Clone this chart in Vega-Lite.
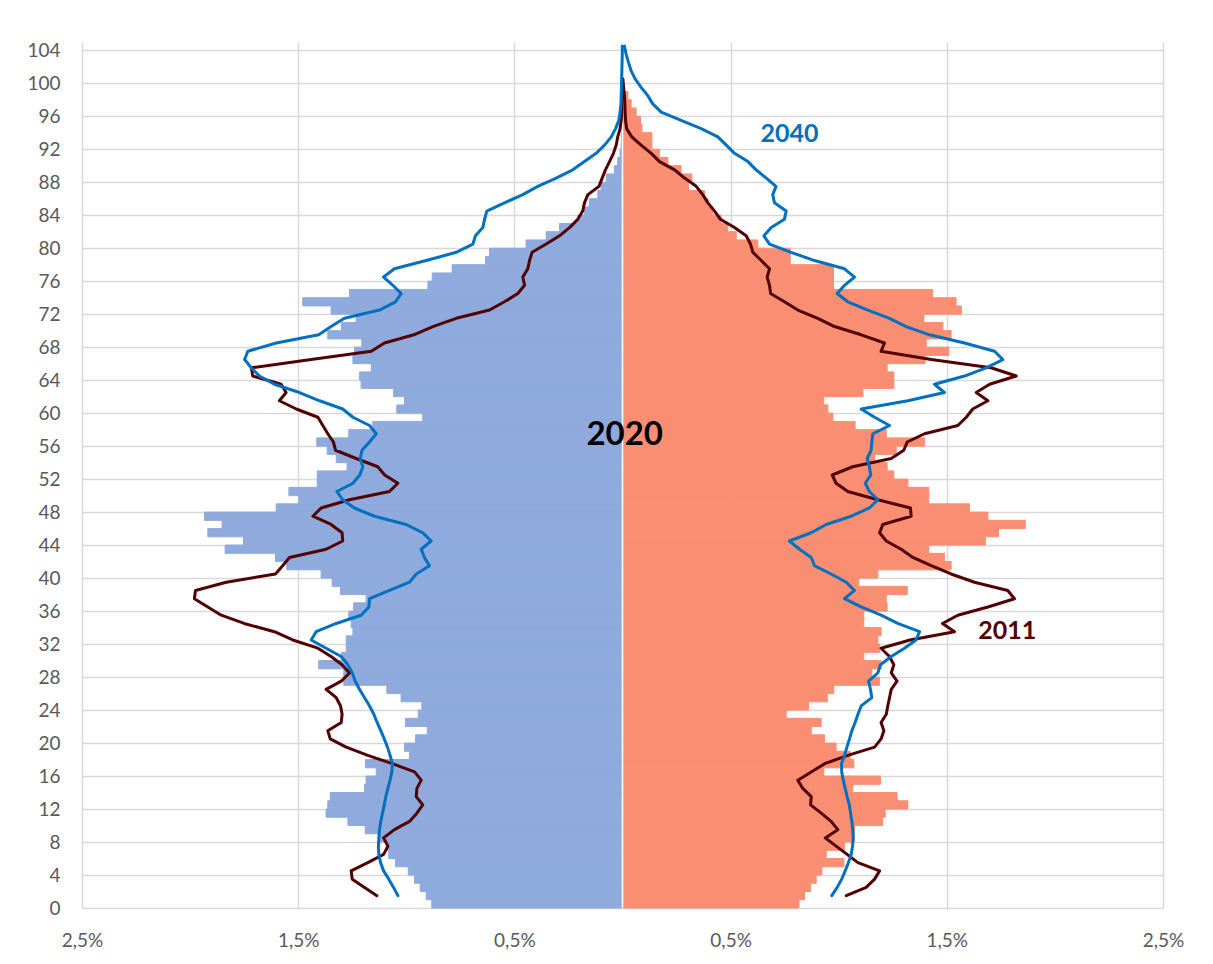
{
"$schema": "https://vega.github.io/schema/vega-lite/v6.json",
"width": 1081, "height": 866,
"autosize": {"type": "none"},
"padding": {"left": 82, "top": 42, "right": 50, "bottom": 56},
"background": "white",
"config": {"view": {"stroke": null}, "font": "Lato"},
"datasets": {
"bars": [
{"age":0,"sex":"M","pct":0.882},{"age":1,"sex":"M","pct":0.908},{"age":2,"sex":"M","pct":0.936},{"age":3,"sex":"M","pct":0.962},{"age":4,"sex":"M","pct":0.991},{"age":5,"sex":"M","pct":1.050},{"age":6,"sex":"M","pct":1.081},{"age":7,"sex":"M","pct":1.093},{"age":8,"sex":"M","pct":1.124},{"age":9,"sex":"M","pct":1.190},
{"age":10,"sex":"M","pct":1.270},{"age":11,"sex":"M","pct":1.371},{"age":12,"sex":"M","pct":1.363},{"age":13,"sex":"M","pct":1.352},{"age":14,"sex":"M","pct":1.193},{"age":15,"sex":"M","pct":1.186},{"age":16,"sex":"M","pct":1.139},{"age":17,"sex":"M","pct":1.189},{"age":18,"sex":"M","pct":0.985},{"age":19,"sex":"M","pct":1.008},
{"age":20,"sex":"M","pct":0.957},{"age":21,"sex":"M","pct":0.903},{"age":22,"sex":"M","pct":1.004},{"age":23,"sex":"M","pct":0.945},{"age":24,"sex":"M","pct":0.928},{"age":25,"sex":"M","pct":1.024},{"age":26,"sex":"M","pct":1.090},{"age":27,"sex":"M","pct":1.289},{"age":28,"sex":"M","pct":1.289},{"age":29,"sex":"M","pct":1.405},
{"age":30,"sex":"M","pct":1.300},{"age":31,"sex":"M","pct":1.278},{"age":32,"sex":"M","pct":1.278},{"age":33,"sex":"M","pct":1.247},{"age":34,"sex":"M","pct":1.255},{"age":35,"sex":"M","pct":1.266},{"age":36,"sex":"M","pct":1.244},{"age":37,"sex":"M","pct":1.186},{"age":38,"sex":"M","pct":1.304},{"age":39,"sex":"M","pct":1.343},
{"age":40,"sex":"M","pct":1.394},{"age":41,"sex":"M","pct":1.553},{"age":42,"sex":"M","pct":1.605},{"age":43,"sex":"M","pct":1.838},{"age":44,"sex":"M","pct":1.753},{"age":45,"sex":"M","pct":1.918},{"age":46,"sex":"M","pct":1.852},{"age":47,"sex":"M","pct":1.933},{"age":48,"sex":"M","pct":1.602},{"age":49,"sex":"M","pct":1.497},
{"age":50,"sex":"M","pct":1.543},{"age":51,"sex":"M","pct":1.412},{"age":52,"sex":"M","pct":1.412},{"age":53,"sex":"M","pct":1.274},{"age":54,"sex":"M","pct":1.324},{"age":55,"sex":"M","pct":1.366},{"age":56,"sex":"M","pct":1.414},{"age":57,"sex":"M","pct":1.266},{"age":58,"sex":"M","pct":1.155},{"age":59,"sex":"M","pct":0.924},
{"age":60,"sex":"M","pct":1.044},{"age":61,"sex":"M","pct":1.008},{"age":62,"sex":"M","pct":1.059},{"age":63,"sex":"M","pct":1.209},{"age":64,"sex":"M","pct":1.216},{"age":65,"sex":"M","pct":1.162},{"age":66,"sex":"M","pct":1.247},{"age":67,"sex":"M","pct":1.240},{"age":68,"sex":"M","pct":1.206},{"age":69,"sex":"M","pct":1.363},
{"age":70,"sex":"M","pct":1.300},{"age":71,"sex":"M","pct":1.232},{"age":72,"sex":"M","pct":1.348},{"age":73,"sex":"M","pct":1.479},{"age":74,"sex":"M","pct":1.263},{"age":75,"sex":"M","pct":0.900},{"age":76,"sex":"M","pct":0.880},{"age":77,"sex":"M","pct":0.788},{"age":78,"sex":"M","pct":0.634},{"age":79,"sex":"M","pct":0.615},
{"age":80,"sex":"M","pct":0.446},{"age":81,"sex":"M","pct":0.353},{"age":82,"sex":"M","pct":0.291},{"age":83,"sex":"M","pct":0.207},{"age":84,"sex":"M","pct":0.176},{"age":85,"sex":"M","pct":0.153},{"age":86,"sex":"M","pct":0.114},{"age":87,"sex":"M","pct":0.099},{"age":88,"sex":"M","pct":0.075},{"age":89,"sex":"M","pct":0.037},
{"age":90,"sex":"M","pct":0.022},{"age":91,"sex":"M","pct":0.011},{"age":92,"sex":"M","pct":0.006},{"age":93,"sex":"M","pct":0.004},{"age":94,"sex":"M","pct":0.003},
{"age":0,"sex":"F","pct":0.816},{"age":1,"sex":"F","pct":0.842},{"age":2,"sex":"F","pct":0.870},{"age":3,"sex":"F","pct":0.896},{"age":4,"sex":"F","pct":0.922},{"age":5,"sex":"F","pct":1.024},{"age":6,"sex":"F","pct":0.942},{"age":7,"sex":"F","pct":1.027},{"age":8,"sex":"F","pct":1.073},{"age":9,"sex":"F","pct":1.073},
{"age":10,"sex":"F","pct":1.204},{"age":11,"sex":"F","pct":1.215},{"age":12,"sex":"F","pct":1.320},{"age":13,"sex":"F","pct":1.270},{"age":14,"sex":"F","pct":1.065},{"age":15,"sex":"F","pct":1.193},{"age":16,"sex":"F","pct":0.931},{"age":17,"sex":"F","pct":1.070},{"age":18,"sex":"F","pct":1.053},{"age":19,"sex":"F","pct":0.988},
{"age":20,"sex":"F","pct":0.934},{"age":21,"sex":"F","pct":0.873},{"age":22,"sex":"F","pct":0.919},{"age":23,"sex":"F","pct":0.757},{"age":24,"sex":"F","pct":0.860},{"age":25,"sex":"F","pct":0.947},{"age":26,"sex":"F","pct":0.977},{"age":27,"sex":"F","pct":1.189},{"age":28,"sex":"F","pct":1.153},{"age":29,"sex":"F","pct":1.196},
{"age":30,"sex":"F","pct":1.116},{"age":31,"sex":"F","pct":1.190},{"age":32,"sex":"F","pct":1.181},{"age":33,"sex":"F","pct":1.196},{"age":34,"sex":"F","pct":1.116},{"age":35,"sex":"F","pct":1.116},{"age":36,"sex":"F","pct":1.224},{"age":37,"sex":"F","pct":1.220},{"age":38,"sex":"F","pct":1.317},{"age":39,"sex":"F","pct":1.093},
{"age":40,"sex":"F","pct":1.181},{"age":41,"sex":"F","pct":1.520},{"age":42,"sex":"F","pct":1.489},{"age":43,"sex":"F","pct":1.417},{"age":44,"sex":"F","pct":1.678},{"age":45,"sex":"F","pct":1.739},{"age":46,"sex":"F","pct":1.863},{"age":47,"sex":"F","pct":1.690},{"age":48,"sex":"F","pct":1.605},{"age":49,"sex":"F","pct":1.417},
{"age":50,"sex":"F","pct":1.417},{"age":51,"sex":"F","pct":1.320},{"age":52,"sex":"F","pct":1.255},{"age":53,"sex":"F","pct":1.224},{"age":54,"sex":"F","pct":1.166},{"age":55,"sex":"F","pct":1.266},{"age":56,"sex":"F","pct":1.397},{"age":57,"sex":"F","pct":1.220},{"age":58,"sex":"F","pct":1.076},{"age":59,"sex":"F","pct":0.973},
{"age":60,"sex":"F","pct":0.950},{"age":61,"sex":"F","pct":0.931},{"age":62,"sex":"F","pct":1.112},{"age":63,"sex":"F","pct":1.255},{"age":64,"sex":"F","pct":1.255},{"age":65,"sex":"F","pct":1.224},{"age":66,"sex":"F","pct":1.400},{"age":67,"sex":"F","pct":1.509},{"age":68,"sex":"F","pct":1.405},{"age":69,"sex":"F","pct":1.520},
{"age":70,"sex":"F","pct":1.482},{"age":71,"sex":"F","pct":1.394},{"age":72,"sex":"F","pct":1.567},{"age":73,"sex":"F","pct":1.543},{"age":74,"sex":"F","pct":1.435},{"age":75,"sex":"F","pct":0.976},{"age":76,"sex":"F","pct":0.976},{"age":77,"sex":"F","pct":0.976},{"age":78,"sex":"F","pct":0.776},{"age":79,"sex":"F","pct":0.776},
{"age":80,"sex":"F","pct":0.626},{"age":81,"sex":"F","pct":0.526},{"age":82,"sex":"F","pct":0.487},{"age":83,"sex":"F","pct":0.456},{"age":84,"sex":"F","pct":0.418},{"age":85,"sex":"F","pct":0.395},{"age":86,"sex":"F","pct":0.379},{"age":87,"sex":"F","pct":0.305},{"age":88,"sex":"F","pct":0.321},{"age":89,"sex":"F","pct":0.271},
{"age":90,"sex":"F","pct":0.210},{"age":91,"sex":"F","pct":0.171},{"age":92,"sex":"F","pct":0.136},{"age":93,"sex":"F","pct":0.136},{"age":94,"sex":"F","pct":0.090},{"age":95,"sex":"F","pct":0.083},{"age":96,"sex":"F","pct":0.063},{"age":97,"sex":"F","pct":0.040},{"age":98,"sex":"F","pct":0.025}
],
"lines": [
{"year":"2011","sex":"M","age":1,"pct":1.136},{"year":"2011","sex":"M","age":2,"pct":1.193},{"year":"2011","sex":"M","age":3,"pct":1.250},{"year":"2011","sex":"M","age":4,"pct":1.255},{"year":"2011","sex":"M","age":5,"pct":1.178},{"year":"2011","sex":"M","age":6,"pct":1.105},{"year":"2011","sex":"M","age":7,"pct":1.085},{"year":"2011","sex":"M","age":8,"pct":1.105},{"year":"2011","sex":"M","age":9,"pct":1.055},{"year":"2011","sex":"M","age":10,"pct":0.985},
{"year":"2011","sex":"M","age":11,"pct":0.951},{"year":"2011","sex":"M","age":12,"pct":0.924},{"year":"2011","sex":"M","age":13,"pct":0.954},{"year":"2011","sex":"M","age":14,"pct":0.951},{"year":"2011","sex":"M","age":15,"pct":0.931},{"year":"2011","sex":"M","age":16,"pct":0.962},{"year":"2011","sex":"M","age":17,"pct":1.065},{"year":"2011","sex":"M","age":18,"pct":1.178},{"year":"2011","sex":"M","age":19,"pct":1.278},{"year":"2011","sex":"M","age":20,"pct":1.352},
{"year":"2011","sex":"M","age":21,"pct":1.363},{"year":"2011","sex":"M","age":22,"pct":1.301},{"year":"2011","sex":"M","age":23,"pct":1.297},{"year":"2011","sex":"M","age":24,"pct":1.304},{"year":"2011","sex":"M","age":25,"pct":1.324},{"year":"2011","sex":"M","age":26,"pct":1.371},{"year":"2011","sex":"M","age":27,"pct":1.301},{"year":"2011","sex":"M","age":28,"pct":1.263},{"year":"2011","sex":"M","age":29,"pct":1.297},{"year":"2011","sex":"M","age":30,"pct":1.348},
{"year":"2011","sex":"M","age":31,"pct":1.409},{"year":"2011","sex":"M","age":32,"pct":1.525},{"year":"2011","sex":"M","age":33,"pct":1.610},{"year":"2011","sex":"M","age":34,"pct":1.750},{"year":"2011","sex":"M","age":35,"pct":1.856},{"year":"2011","sex":"M","age":36,"pct":1.918},{"year":"2011","sex":"M","age":37,"pct":1.980},{"year":"2011","sex":"M","age":38,"pct":1.975},{"year":"2011","sex":"M","age":39,"pct":1.833},{"year":"2011","sex":"M","age":40,"pct":1.605},
{"year":"2011","sex":"M","age":41,"pct":1.572},{"year":"2011","sex":"M","age":42,"pct":1.540},{"year":"2011","sex":"M","age":43,"pct":1.371},{"year":"2011","sex":"M","age":44,"pct":1.294},{"year":"2011","sex":"M","age":45,"pct":1.297},{"year":"2011","sex":"M","age":46,"pct":1.348},{"year":"2011","sex":"M","age":47,"pct":1.432},{"year":"2011","sex":"M","age":48,"pct":1.394},{"year":"2011","sex":"M","age":49,"pct":1.263},{"year":"2011","sex":"M","age":50,"pct":1.078},
{"year":"2011","sex":"M","age":51,"pct":1.039},{"year":"2011","sex":"M","age":52,"pct":1.100},{"year":"2011","sex":"M","age":53,"pct":1.132},{"year":"2011","sex":"M","age":54,"pct":1.232},{"year":"2011","sex":"M","age":55,"pct":1.327},{"year":"2011","sex":"M","age":56,"pct":1.337},{"year":"2011","sex":"M","age":57,"pct":1.363},{"year":"2011","sex":"M","age":58,"pct":1.386},{"year":"2011","sex":"M","age":59,"pct":1.409},{"year":"2011","sex":"M","age":60,"pct":1.509},
{"year":"2011","sex":"M","age":61,"pct":1.587},{"year":"2011","sex":"M","age":62,"pct":1.556},{"year":"2011","sex":"M","age":63,"pct":1.579},{"year":"2011","sex":"M","age":64,"pct":1.710},{"year":"2011","sex":"M","age":65,"pct":1.717},{"year":"2011","sex":"M","age":66,"pct":1.440},{"year":"2011","sex":"M","age":67,"pct":1.162},{"year":"2011","sex":"M","age":68,"pct":1.101},{"year":"2011","sex":"M","age":69,"pct":0.965},{"year":"2011","sex":"M","age":70,"pct":0.877},
{"year":"2011","sex":"M","age":71,"pct":0.769},{"year":"2011","sex":"M","age":72,"pct":0.615},{"year":"2011","sex":"M","age":73,"pct":0.546},{"year":"2011","sex":"M","age":74,"pct":0.484},{"year":"2011","sex":"M","age":75,"pct":0.453},{"year":"2011","sex":"M","age":76,"pct":0.461},{"year":"2011","sex":"M","age":77,"pct":0.438},{"year":"2011","sex":"M","age":78,"pct":0.430},{"year":"2011","sex":"M","age":79,"pct":0.418},{"year":"2011","sex":"M","age":80,"pct":0.353},
{"year":"2011","sex":"M","age":81,"pct":0.291},{"year":"2011","sex":"M","age":82,"pct":0.245},{"year":"2011","sex":"M","age":83,"pct":0.207},{"year":"2011","sex":"M","age":84,"pct":0.184},{"year":"2011","sex":"M","age":85,"pct":0.176},{"year":"2011","sex":"M","age":86,"pct":0.160},{"year":"2011","sex":"M","age":87,"pct":0.109},{"year":"2011","sex":"M","age":88,"pct":0.094},{"year":"2011","sex":"M","age":89,"pct":0.079},{"year":"2011","sex":"M","age":90,"pct":0.060},
{"year":"2011","sex":"M","age":91,"pct":0.042},{"year":"2011","sex":"M","age":92,"pct":0.029},{"year":"2011","sex":"M","age":93,"pct":0.022},{"year":"2011","sex":"M","age":94,"pct":0.011},{"year":"2011","sex":"M","age":95,"pct":0.006},{"year":"2011","sex":"M","age":96,"pct":0.004},{"year":"2011","sex":"M","age":97,"pct":0.003},{"year":"2011","sex":"M","age":98,"pct":0.002},{"year":"2011","sex":"M","age":99,"pct":0.001},{"year":"2011","sex":"M","age":100,"pct":0.0},
{"year":"2011","sex":"F","age":1,"pct":1.035},{"year":"2011","sex":"F","age":2,"pct":1.127},{"year":"2011","sex":"F","age":3,"pct":1.166},{"year":"2011","sex":"F","age":4,"pct":1.189},{"year":"2011","sex":"F","age":5,"pct":1.089},{"year":"2011","sex":"F","age":6,"pct":1.039},{"year":"2011","sex":"F","age":7,"pct":0.988},{"year":"2011","sex":"F","age":8,"pct":0.938},{"year":"2011","sex":"F","age":9,"pct":0.996},{"year":"2011","sex":"F","age":10,"pct":0.965},
{"year":"2011","sex":"F","age":11,"pct":0.919},{"year":"2011","sex":"F","age":12,"pct":0.870},{"year":"2011","sex":"F","age":13,"pct":0.873},{"year":"2011","sex":"F","age":14,"pct":0.834},{"year":"2011","sex":"F","age":15,"pct":0.811},{"year":"2011","sex":"F","age":16,"pct":0.873},{"year":"2011","sex":"F","age":17,"pct":0.935},{"year":"2011","sex":"F","age":18,"pct":1.042},{"year":"2011","sex":"F","age":19,"pct":1.166},{"year":"2011","sex":"F","age":20,"pct":1.196},
{"year":"2011","sex":"F","age":21,"pct":1.209},{"year":"2011","sex":"F","age":22,"pct":1.196},{"year":"2011","sex":"F","age":23,"pct":1.220},{"year":"2011","sex":"F","age":24,"pct":1.227},{"year":"2011","sex":"F","age":25,"pct":1.235},{"year":"2011","sex":"F","age":26,"pct":1.243},{"year":"2011","sex":"F","age":27,"pct":1.270},{"year":"2011","sex":"F","age":28,"pct":1.243},{"year":"2011","sex":"F","age":29,"pct":1.255},{"year":"2011","sex":"F","age":30,"pct":1.235},
{"year":"2011","sex":"F","age":31,"pct":1.196},{"year":"2011","sex":"F","age":32,"pct":1.330},{"year":"2011","sex":"F","age":33,"pct":1.536},{"year":"2011","sex":"F","age":34,"pct":1.480},{"year":"2011","sex":"F","age":35,"pct":1.551},{"year":"2011","sex":"F","age":36,"pct":1.690},{"year":"2011","sex":"F","age":37,"pct":1.813},{"year":"2011","sex":"F","age":38,"pct":1.782},{"year":"2011","sex":"F","age":39,"pct":1.628},{"year":"2011","sex":"F","age":40,"pct":1.520},
{"year":"2011","sex":"F","age":41,"pct":1.428},{"year":"2011","sex":"F","age":42,"pct":1.343},{"year":"2011","sex":"F","age":43,"pct":1.289},{"year":"2011","sex":"F","age":44,"pct":1.220},{"year":"2011","sex":"F","age":45,"pct":1.189},{"year":"2011","sex":"F","age":46,"pct":1.204},{"year":"2011","sex":"F","age":47,"pct":1.335},{"year":"2011","sex":"F","age":48,"pct":1.332},{"year":"2011","sex":"F","age":49,"pct":1.181},{"year":"2011","sex":"F","age":50,"pct":1.042},
{"year":"2011","sex":"F","age":51,"pct":0.988},{"year":"2011","sex":"F","age":52,"pct":0.970},{"year":"2011","sex":"F","age":53,"pct":1.065},{"year":"2011","sex":"F","age":54,"pct":1.243},{"year":"2011","sex":"F","age":55,"pct":1.301},{"year":"2011","sex":"F","age":56,"pct":1.317},{"year":"2011","sex":"F","age":57,"pct":1.397},{"year":"2011","sex":"F","age":58,"pct":1.551},{"year":"2011","sex":"F","age":59,"pct":1.590},{"year":"2011","sex":"F","age":60,"pct":1.620},
{"year":"2011","sex":"F","age":61,"pct":1.690},{"year":"2011","sex":"F","age":62,"pct":1.636},{"year":"2011","sex":"F","age":63,"pct":1.698},{"year":"2011","sex":"F","age":64,"pct":1.821},{"year":"2011","sex":"F","age":65,"pct":1.705},{"year":"2011","sex":"F","age":66,"pct":1.428},{"year":"2011","sex":"F","age":67,"pct":1.196},{"year":"2011","sex":"F","age":68,"pct":1.212},{"year":"2011","sex":"F","age":69,"pct":1.104},{"year":"2011","sex":"F","age":70,"pct":0.981},
{"year":"2011","sex":"F","age":71,"pct":0.903},{"year":"2011","sex":"F","age":72,"pct":0.811},{"year":"2011","sex":"F","age":73,"pct":0.749},{"year":"2011","sex":"F","age":74,"pct":0.685},{"year":"2011","sex":"F","age":75,"pct":0.680},{"year":"2011","sex":"F","age":76,"pct":0.669},{"year":"2011","sex":"F","age":77,"pct":0.680},{"year":"2011","sex":"F","age":78,"pct":0.642},{"year":"2011","sex":"F","age":79,"pct":0.603},{"year":"2011","sex":"F","age":80,"pct":0.592},
{"year":"2011","sex":"F","age":81,"pct":0.572},{"year":"2011","sex":"F","age":82,"pct":0.518},{"year":"2011","sex":"F","age":83,"pct":0.453},{"year":"2011","sex":"F","age":84,"pct":0.426},{"year":"2011","sex":"F","age":85,"pct":0.395},{"year":"2011","sex":"F","age":86,"pct":0.371},{"year":"2011","sex":"F","age":87,"pct":0.341},{"year":"2011","sex":"F","age":88,"pct":0.287},{"year":"2011","sex":"F","age":89,"pct":0.241},{"year":"2011","sex":"F","age":90,"pct":0.171},
{"year":"2011","sex":"F","age":91,"pct":0.133},{"year":"2011","sex":"F","age":92,"pct":0.086},{"year":"2011","sex":"F","age":93,"pct":0.043},{"year":"2011","sex":"F","age":94,"pct":0.019},{"year":"2011","sex":"F","age":95,"pct":0.014},{"year":"2011","sex":"F","age":96,"pct":0.012},{"year":"2011","sex":"F","age":97,"pct":0.011},{"year":"2011","sex":"F","age":98,"pct":0.009},{"year":"2011","sex":"F","age":99,"pct":0.005},{"year":"2011","sex":"F","age":100,"pct":0.002},
{"year":"2040","sex":"M","age":1,"pct":1.039},{"year":"2040","sex":"M","age":2,"pct":1.059},{"year":"2040","sex":"M","age":3,"pct":1.081},{"year":"2040","sex":"M","age":4,"pct":1.105},{"year":"2040","sex":"M","age":5,"pct":1.119},{"year":"2040","sex":"M","age":6,"pct":1.127},{"year":"2040","sex":"M","age":7,"pct":1.129},{"year":"2040","sex":"M","age":8,"pct":1.127},{"year":"2040","sex":"M","age":9,"pct":1.124},{"year":"2040","sex":"M","age":10,"pct":1.118},
{"year":"2040","sex":"M","age":11,"pct":1.110},{"year":"2040","sex":"M","age":12,"pct":1.102},{"year":"2040","sex":"M","age":13,"pct":1.095},{"year":"2040","sex":"M","age":14,"pct":1.085},{"year":"2040","sex":"M","age":15,"pct":1.075},{"year":"2040","sex":"M","age":16,"pct":1.067},{"year":"2040","sex":"M","age":17,"pct":1.064},{"year":"2040","sex":"M","age":18,"pct":1.075},{"year":"2040","sex":"M","age":19,"pct":1.087},{"year":"2040","sex":"M","age":20,"pct":1.102},
{"year":"2040","sex":"M","age":21,"pct":1.118},{"year":"2040","sex":"M","age":22,"pct":1.135},{"year":"2040","sex":"M","age":23,"pct":1.150},{"year":"2040","sex":"M","age":24,"pct":1.170},{"year":"2040","sex":"M","age":25,"pct":1.193},{"year":"2040","sex":"M","age":26,"pct":1.216},{"year":"2040","sex":"M","age":27,"pct":1.236},{"year":"2040","sex":"M","age":28,"pct":1.250},{"year":"2040","sex":"M","age":29,"pct":1.270},{"year":"2040","sex":"M","age":30,"pct":1.301},
{"year":"2040","sex":"M","age":31,"pct":1.371},{"year":"2040","sex":"M","age":32,"pct":1.440},{"year":"2040","sex":"M","age":33,"pct":1.417},{"year":"2040","sex":"M","age":34,"pct":1.324},{"year":"2040","sex":"M","age":35,"pct":1.209},{"year":"2040","sex":"M","age":36,"pct":1.173},{"year":"2040","sex":"M","age":37,"pct":1.170},{"year":"2040","sex":"M","age":38,"pct":1.078},{"year":"2040","sex":"M","age":39,"pct":0.985},{"year":"2040","sex":"M","age":40,"pct":0.954},
{"year":"2040","sex":"M","age":41,"pct":0.893},{"year":"2040","sex":"M","age":42,"pct":0.916},{"year":"2040","sex":"M","age":43,"pct":0.931},{"year":"2040","sex":"M","age":44,"pct":0.885},{"year":"2040","sex":"M","age":45,"pct":0.924},{"year":"2040","sex":"M","age":46,"pct":1.001},{"year":"2040","sex":"M","age":47,"pct":1.147},{"year":"2040","sex":"M","age":48,"pct":1.240},{"year":"2040","sex":"M","age":49,"pct":1.294},{"year":"2040","sex":"M","age":50,"pct":1.321},
{"year":"2040","sex":"M","age":51,"pct":1.247},{"year":"2040","sex":"M","age":52,"pct":1.215},{"year":"2040","sex":"M","age":53,"pct":1.201},{"year":"2040","sex":"M","age":54,"pct":1.213},{"year":"2040","sex":"M","age":55,"pct":1.205},{"year":"2040","sex":"M","age":56,"pct":1.170},{"year":"2040","sex":"M","age":57,"pct":1.139},{"year":"2040","sex":"M","age":58,"pct":1.170},{"year":"2040","sex":"M","age":59,"pct":1.247},{"year":"2040","sex":"M","age":60,"pct":1.294},
{"year":"2040","sex":"M","age":61,"pct":1.401},{"year":"2040","sex":"M","age":62,"pct":1.494},{"year":"2040","sex":"M","age":63,"pct":1.610},{"year":"2040","sex":"M","age":64,"pct":1.679},{"year":"2040","sex":"M","age":65,"pct":1.717},{"year":"2040","sex":"M","age":66,"pct":1.748},{"year":"2040","sex":"M","age":67,"pct":1.733},{"year":"2040","sex":"M","age":68,"pct":1.602},{"year":"2040","sex":"M","age":69,"pct":1.405},{"year":"2040","sex":"M","age":70,"pct":1.348},
{"year":"2040","sex":"M","age":71,"pct":1.286},{"year":"2040","sex":"M","age":72,"pct":1.124},{"year":"2040","sex":"M","age":73,"pct":1.050},{"year":"2040","sex":"M","age":74,"pct":1.024},{"year":"2040","sex":"M","age":75,"pct":1.062},{"year":"2040","sex":"M","age":76,"pct":1.105},{"year":"2040","sex":"M","age":77,"pct":1.055},{"year":"2040","sex":"M","age":78,"pct":0.908},{"year":"2040","sex":"M","age":79,"pct":0.769},{"year":"2040","sex":"M","age":80,"pct":0.692},
{"year":"2040","sex":"M","age":81,"pct":0.680},{"year":"2040","sex":"M","age":82,"pct":0.646},{"year":"2040","sex":"M","age":83,"pct":0.638},{"year":"2040","sex":"M","age":84,"pct":0.628},{"year":"2040","sex":"M","age":85,"pct":0.546},{"year":"2040","sex":"M","age":86,"pct":0.461},{"year":"2040","sex":"M","age":87,"pct":0.392},{"year":"2040","sex":"M","age":88,"pct":0.307},{"year":"2040","sex":"M","age":89,"pct":0.230},{"year":"2040","sex":"M","age":90,"pct":0.176},
{"year":"2040","sex":"M","age":91,"pct":0.122},{"year":"2040","sex":"M","age":92,"pct":0.083},{"year":"2040","sex":"M","age":93,"pct":0.052},{"year":"2040","sex":"M","age":94,"pct":0.032},{"year":"2040","sex":"M","age":95,"pct":0.017},{"year":"2040","sex":"M","age":96,"pct":0.011},{"year":"2040","sex":"M","age":97,"pct":0.007},{"year":"2040","sex":"M","age":98,"pct":0.006},{"year":"2040","sex":"M","age":99,"pct":0.005},{"year":"2040","sex":"M","age":100,"pct":0.004},
{"year":"2040","sex":"M","age":101,"pct":0.003},{"year":"2040","sex":"M","age":102,"pct":0.002},{"year":"2040","sex":"M","age":103,"pct":0.001},{"year":"2040","sex":"M","age":104,"pct":0.001},
{"year":"2040","sex":"F","age":1,"pct":0.968},{"year":"2040","sex":"F","age":2,"pct":0.993},{"year":"2040","sex":"F","age":3,"pct":1.014},{"year":"2040","sex":"F","age":4,"pct":1.030},{"year":"2040","sex":"F","age":5,"pct":1.045},{"year":"2040","sex":"F","age":6,"pct":1.058},{"year":"2040","sex":"F","age":7,"pct":1.064},{"year":"2040","sex":"F","age":8,"pct":1.067},{"year":"2040","sex":"F","age":9,"pct":1.065},{"year":"2040","sex":"F","age":10,"pct":1.061},
{"year":"2040","sex":"F","age":11,"pct":1.055},{"year":"2040","sex":"F","age":12,"pct":1.049},{"year":"2040","sex":"F","age":13,"pct":1.039},{"year":"2040","sex":"F","age":14,"pct":1.030},{"year":"2040","sex":"F","age":15,"pct":1.021},{"year":"2040","sex":"F","age":16,"pct":1.014},{"year":"2040","sex":"F","age":17,"pct":1.013},{"year":"2040","sex":"F","age":18,"pct":1.027},{"year":"2040","sex":"F","age":19,"pct":1.038},{"year":"2040","sex":"F","age":20,"pct":1.050},
{"year":"2040","sex":"F","age":21,"pct":1.061},{"year":"2040","sex":"F","age":22,"pct":1.076},{"year":"2040","sex":"F","age":23,"pct":1.089},{"year":"2040","sex":"F","age":24,"pct":1.104},{"year":"2040","sex":"F","age":25,"pct":1.153},{"year":"2040","sex":"F","age":26,"pct":1.147},{"year":"2040","sex":"F","age":27,"pct":1.138},{"year":"2040","sex":"F","age":28,"pct":1.181},{"year":"2040","sex":"F","age":29,"pct":1.193},{"year":"2040","sex":"F","age":30,"pct":1.243},
{"year":"2040","sex":"F","age":31,"pct":1.304},{"year":"2040","sex":"F","age":32,"pct":1.358},{"year":"2040","sex":"F","age":33,"pct":1.374},{"year":"2040","sex":"F","age":34,"pct":1.273},{"year":"2040","sex":"F","age":35,"pct":1.196},{"year":"2040","sex":"F","age":36,"pct":1.104},{"year":"2040","sex":"F","age":37,"pct":1.027},{"year":"2040","sex":"F","age":38,"pct":1.073},{"year":"2040","sex":"F","age":39,"pct":1.035},{"year":"2040","sex":"F","age":40,"pct":0.965},
{"year":"2040","sex":"F","age":41,"pct":0.888},{"year":"2040","sex":"F","age":42,"pct":0.873},{"year":"2040","sex":"F","age":43,"pct":0.819},{"year":"2040","sex":"F","age":44,"pct":0.772},{"year":"2040","sex":"F","age":45,"pct":0.873},{"year":"2040","sex":"F","age":46,"pct":0.942},{"year":"2040","sex":"F","age":47,"pct":1.058},{"year":"2040","sex":"F","age":48,"pct":1.142},{"year":"2040","sex":"F","age":49,"pct":1.181},{"year":"2040","sex":"F","age":50,"pct":1.142},
{"year":"2040","sex":"F","age":51,"pct":1.123},{"year":"2040","sex":"F","age":52,"pct":1.148},{"year":"2040","sex":"F","age":53,"pct":1.142},{"year":"2040","sex":"F","age":54,"pct":1.132},{"year":"2040","sex":"F","age":55,"pct":1.150},{"year":"2040","sex":"F","age":56,"pct":1.153},{"year":"2040","sex":"F","age":57,"pct":1.158},{"year":"2040","sex":"F","age":58,"pct":1.235},{"year":"2040","sex":"F","age":59,"pct":1.166},{"year":"2040","sex":"F","age":60,"pct":1.104},
{"year":"2040","sex":"F","age":61,"pct":1.320},{"year":"2040","sex":"F","age":62,"pct":1.489},{"year":"2040","sex":"F","age":63,"pct":1.443},{"year":"2040","sex":"F","age":64,"pct":1.582},{"year":"2040","sex":"F","age":65,"pct":1.682},{"year":"2040","sex":"F","age":66,"pct":1.759},{"year":"2040","sex":"F","age":67,"pct":1.721},{"year":"2040","sex":"F","age":68,"pct":1.582},{"year":"2040","sex":"F","age":69,"pct":1.420},{"year":"2040","sex":"F","age":70,"pct":1.312},
{"year":"2040","sex":"F","age":71,"pct":1.235},{"year":"2040","sex":"F","age":72,"pct":1.135},{"year":"2040","sex":"F","age":73,"pct":1.042},{"year":"2040","sex":"F","age":74,"pct":0.993},{"year":"2040","sex":"F","age":75,"pct":1.027},{"year":"2040","sex":"F","age":76,"pct":1.073},{"year":"2040","sex":"F","age":77,"pct":1.027},{"year":"2040","sex":"F","age":78,"pct":0.888},{"year":"2040","sex":"F","age":79,"pct":0.780},{"year":"2040","sex":"F","age":80,"pct":0.680},
{"year":"2040","sex":"F","age":81,"pct":0.654},{"year":"2040","sex":"F","age":82,"pct":0.688},{"year":"2040","sex":"F","age":83,"pct":0.749},{"year":"2040","sex":"F","age":84,"pct":0.757},{"year":"2040","sex":"F","age":85,"pct":0.703},{"year":"2040","sex":"F","age":86,"pct":0.695},{"year":"2040","sex":"F","age":87,"pct":0.710},{"year":"2040","sex":"F","age":88,"pct":0.665},{"year":"2040","sex":"F","age":89,"pct":0.618},{"year":"2040","sex":"F","age":90,"pct":0.580},
{"year":"2040","sex":"F","age":91,"pct":0.518},{"year":"2040","sex":"F","age":92,"pct":0.480},{"year":"2040","sex":"F","age":93,"pct":0.441},{"year":"2040","sex":"F","age":94,"pct":0.364},{"year":"2040","sex":"F","age":95,"pct":0.271},{"year":"2040","sex":"F","age":96,"pct":0.179},{"year":"2040","sex":"F","age":97,"pct":0.140},{"year":"2040","sex":"F","age":98,"pct":0.117},{"year":"2040","sex":"F","age":99,"pct":0.086},{"year":"2040","sex":"F","age":100,"pct":0.059},
{"year":"2040","sex":"F","age":101,"pct":0.040},{"year":"2040","sex":"F","age":102,"pct":0.028},{"year":"2040","sex":"F","age":103,"pct":0.017},{"year":"2040","sex":"F","age":104,"pct":0.009}
]
},
"layer": [
{
"data": {"name": "bars"},
"transform": [
{"filter": "datum.sex == 'M'"},
{"calculate": "-datum.pct", "as": "v"},
{"calculate": "datum.age + 1", "as": "age1"}
],
"mark": {"type": "rect", "fill": "#8FAADC", "stroke": "#8FAADC", "strokeWidth": 1},
"encoding": {
"x": {"field": "v", "type": "quantitative",
"scale": {"domain": [-2.5, 2.5], "nice": false, "zero": false},
"axis": {"values": [-2.5, -1.5, -0.5, 0.5, 1.5, 2.5], "tickCount": 10, "labelExpr": "replace(format(abs(datum.value), '.1f'), '.', ',') + '%'", "title": null, "grid": true, "gridColor": "#D9D9D9", "gridWidth": 1.5, "domain": false, "ticks": false, "labelPadding": 23, "labelFontSize": 19, "labelColor": "#595959", "labelFont": "Lato", "labelFlush": false, "labelOverlap": false}},
"x2": {"datum": 0},
"y": {"field": "age", "type": "quantitative",
"scale": {"domain": [0, 105], "nice": false, "zero": true},
"axis": {"values": [0,4,8,12,16,20,24,28,32,36,40,44,48,52,56,60,64,68,72,76,80,84,88,92,96,100,104], "tickCount": 40, "title": null, "grid": true, "gridColor": "#D9D9D9", "gridWidth": 1.5, "domain": false, "ticks": false, "labelPadding": 22, "labelFontSize": 19, "labelColor": "#595959", "labelFont": "Lato", "labelFlush": false, "labelOverlap": false}},
"y2": {"field": "age1"}
}
},
{
"data": {"name": "bars"},
"transform": [
{"filter": "datum.sex == 'F'"},
{"calculate": "datum.pct", "as": "v"},
{"calculate": "datum.age + 1", "as": "age1"}
],
"mark": {"type": "rect", "fill": "#FA8E72", "stroke": "#FA8E72", "strokeWidth": 1},
"encoding": {
"x": {"field": "v", "type": "quantitative"},
"x2": {"datum": 0},
"y": {"field": "age", "type": "quantitative"},
"y2": {"field": "age1"}
}
},
{
"data": {"values": [{}]},
"mark": {"type": "rule", "color": "#FFFFFF", "strokeWidth": 1.5},
"encoding": {"x": {"datum": 0}}
},
{
"data": {"name": "lines"},
"transform": [
{"calculate": "datum.sex == 'M' ? -datum.pct : datum.pct", "as": "v"},
{"calculate": "datum.age + 0.5", "as": "ym"}
],
"mark": {"type": "line", "strokeWidth": 3, "strokeJoin": "round", "strokeCap": "round"},
"encoding": {
"x": {"field": "v", "type": "quantitative"},
"y": {"field": "ym", "type": "quantitative"},
"stroke": {"field": "year", "type": "nominal", "scale": {"domain": ["2011", "2040"], "range": ["#520000", "#0070C0"]}, "legend": null},
"detail": {"field": "sex"},
"order": {"field": "age", "type": "quantitative"}
}
},
{
"data": {"values": [{}]},
"mark": {"type": "text", "text": "2020", "font": "Lato", "fontSize": 33, "fontWeight": "bold", "color": "#000000", "align": "center", "baseline": "middle"},
"encoding": {"x": {"datum": 0.01}, "y": {"datum": 57.3}}
},
{
"data": {"values": [{}]},
"mark": {"type": "text", "text": "2040", "font": "Lato", "fontSize": 25, "fontWeight": "bold", "color": "#0070C0", "align": "center", "baseline": "middle"},
"encoding": {"x": {"datum": 0.772}, "y": {"datum": 93.8}}
},
{
"data": {"values": [{}]},
"mark": {"type": "text", "text": "2011", "font": "Lato", "fontSize": 25, "fontWeight": "bold", "color": "#520000", "align": "center", "baseline": "middle"},
"encoding": {"x": {"datum": 1.78}, "y": {"datum": 33.6}}
}
]
}
